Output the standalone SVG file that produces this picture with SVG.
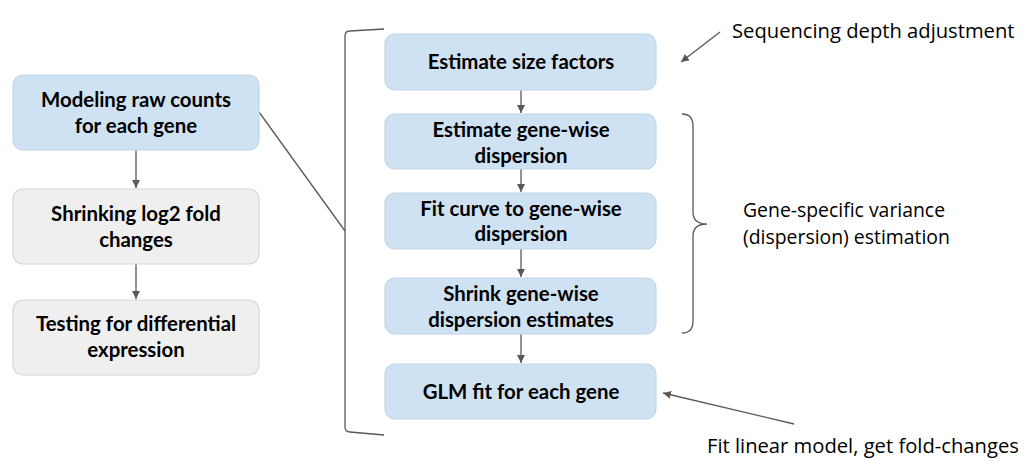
<svg xmlns="http://www.w3.org/2000/svg" width="1028" height="469" viewBox="0 0 1028 469">
<style>
.blue{fill:#cfe2f3;stroke:#c3d6e8;stroke-width:1.2}
.gray{fill:#efefef;stroke:#d6d6d6;stroke-width:1.2}
.bt{font-family:Lato,"Liberation Sans",sans-serif;font-weight:bold;font-size:20.4px;fill:#000;text-anchor:middle}
.lt{font-family:"Open Sans","Liberation Sans",sans-serif;font-size:20.2px;fill:#000}
.ln{stroke:#595959;stroke-width:1.3;fill:none}
</style>
<defs>
<marker id="ah" viewBox="0 0 10 10" refX="10" refY="5" markerWidth="8" markerHeight="8" markerUnits="userSpaceOnUse" orient="auto">
<path d="M0,0 L10,5 L0,10 Z" fill="#595959"/>
</marker>
</defs>
<g id="connectors">
<line class="ln" x1="136" y1="150" x2="136" y2="188" marker-end="url(#ah)"/>
<line class="ln" x1="136" y1="264" x2="136" y2="299" marker-end="url(#ah)"/>
<line class="ln" x1="521" y1="90" x2="521" y2="113" marker-end="url(#ah)"/>
<line class="ln" x1="521" y1="169" x2="521" y2="192" marker-end="url(#ah)"/>
<line class="ln" x1="521" y1="249" x2="521" y2="277" marker-end="url(#ah)"/>
<line class="ln" x1="521" y1="334" x2="521" y2="363" marker-end="url(#ah)"/>
<line class="ln" x1="720" y1="32" x2="681" y2="62" marker-end="url(#ah)"/>
<line class="ln" x1="794" y1="424" x2="663" y2="393" marker-end="url(#ah)"/>
<line class="ln" x1="259" y1="112" x2="345" y2="231" stroke-width="1"/>
<path class="ln" stroke-width="1" d="M384,29 L350,31 Q345,31 345,36 L345,427 Q345,432 350,432 L384,435"/>
<path class="ln" stroke-width="1" d="M682,114 Q693,114 693,126 L693,212 Q693,224 707,224 Q693,224 693,236 L693,321 Q693,333 682,333"/>
</g>
<g id="n-modeling">
<rect class="blue" x="13" y="75" width="246" height="75" rx="10"/>
<text class="bt" x="136" y="107">Modeling raw counts</text>
<text class="bt" x="136" y="133">for each gene</text>
</g>
<g id="n-shrinking">
<rect class="gray" x="13" y="189" width="246" height="75" rx="10"/>
<text class="bt" x="136" y="221">Shrinking log2 fold</text>
<text class="bt" x="136" y="247">changes</text>
</g>
<g id="n-testing">
<rect class="gray" x="13" y="300" width="246" height="75" rx="10"/>
<text class="bt" x="136" y="331">Testing for differential</text>
<text class="bt" x="136" y="357">expression</text>
</g>
<g id="n-size">
<rect class="blue" x="385" y="34" width="271" height="56" rx="10"/>
<text class="bt" x="521" y="69">Estimate size factors</text>
</g>
<g id="n-genewise">
<rect class="blue" x="385" y="114" width="271" height="55" rx="10"/>
<text class="bt" x="521" y="137">Estimate gene-wise</text>
<text class="bt" x="521" y="163">dispersion</text>
</g>
<g id="n-fitcurve">
<rect class="blue" x="385" y="193" width="271" height="56" rx="10"/>
<text class="bt" x="521" y="216">Fit curve to gene-wise</text>
<text class="bt" x="521" y="241">dispersion</text>
</g>
<g id="n-shrink">
<rect class="blue" x="385" y="278" width="271" height="56" rx="10"/>
<text class="bt" x="521" y="301">Shrink gene-wise</text>
<text class="bt" x="521" y="327">dispersion estimates</text>
</g>
<g id="n-glm">
<rect class="blue" x="385" y="364" width="271" height="55" rx="10"/>
<text class="bt" x="521" y="399">GLM fit for each gene</text>
</g>
<g id="labels">
<text class="lt" x="732" y="38">Sequencing depth adjustment</text>
<text class="lt" x="743" y="217" style="font-size:19.4px">Gene-specific variance</text>
<text class="lt" x="743" y="244" style="font-size:19.4px">(dispersion) estimation</text>
<text class="lt" x="707" y="453">Fit linear model, get fold-changes</text>
</g>
</svg>
